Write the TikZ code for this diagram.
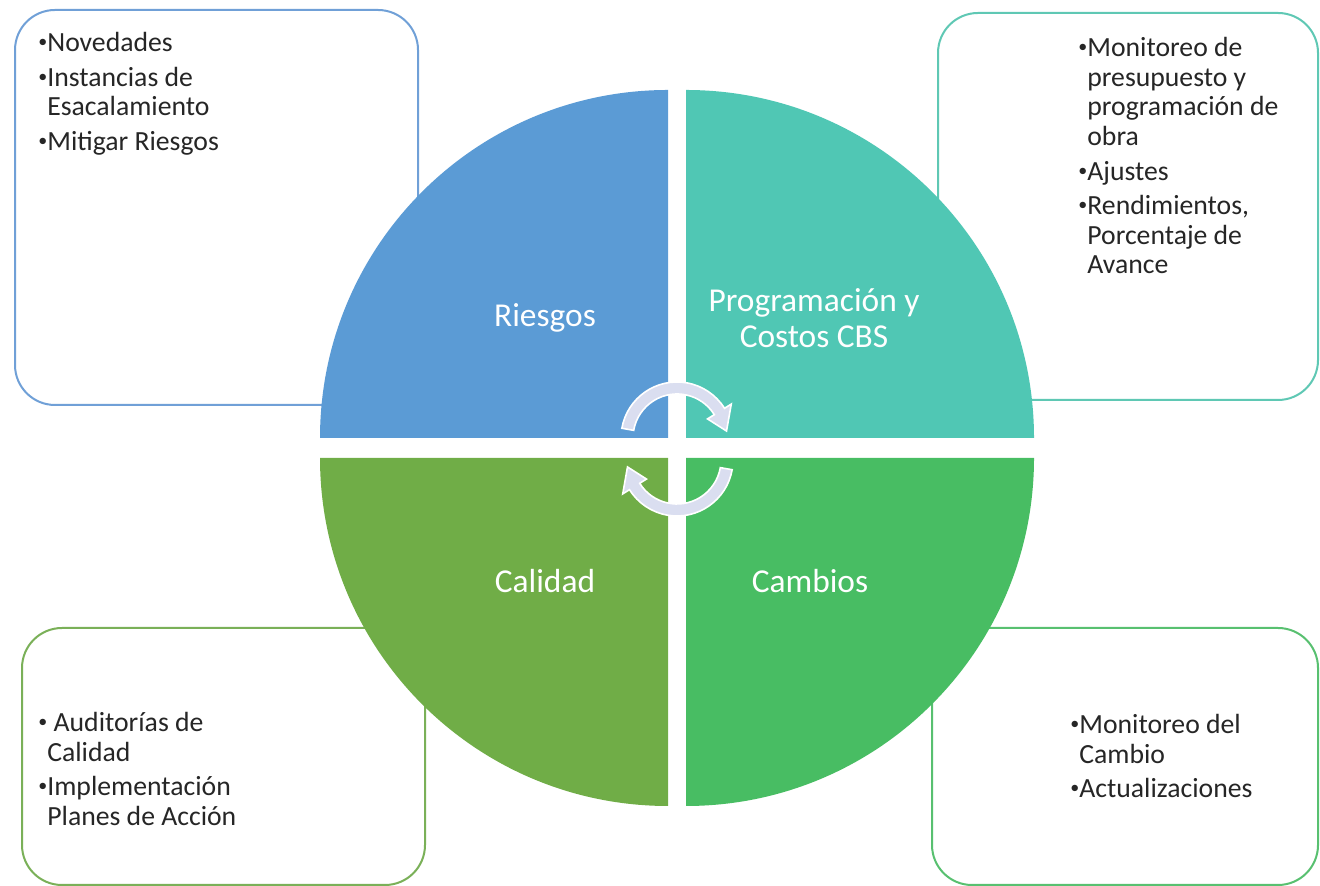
\documentclass[tikz,border=0pt]{standalone}
\usepackage{fontspec}
\setmainfont{Carlito}
\usetikzlibrary{positioning}

\definecolor{riesgosBlue}{RGB}{91,155,213}
\definecolor{costosTeal}{RGB}{80,199,180}
\definecolor{calidadGreen}{RGB}{112,173,71}
\definecolor{cambiosGreen}{RGB}{72,189,99}
\definecolor{riesgosLine}{RGB}{112,160,215}
\definecolor{costosLine}{RGB}{95,200,180}
\definecolor{calidadLine}{RGB}{122,176,88}
\definecolor{cambiosLine}{RGB}{88,192,112}
\definecolor{arrowLilac}{RGB}{218,222,240}

\newcommand{\itemdot}{\raisebox{0.14em}{\fontsize{9}{9}\selectfont•}}
\newcommand{\itemgap}{\phantom{\itemdot}}

\begin{document}
\begin{tikzpicture}[
    x=0.5pt, y=0.5pt,
    panel/.style={rounded corners=20pt, line width=1pt, fill=white},
    bullets/.style={anchor=north west, inner sep=0pt, align=left, text=black!85,
      font=\fontsize{13.85}{14.8}\selectfont},
    quadtext/.style={text=white, align=center, inner sep=0pt,
      font=\fontsize{16.7}{18}\selectfont},
    cyclearrow/.style={fill=arrowLilac, draw=white, line width=0.8pt}
  ]

  \useasboundingbox (0,0) rectangle (1320,886);

  % boxes behind the circle
  \draw[panel, draw=riesgosLine] (15,481) rectangle (418,876);
  \draw[panel, draw=costosLine] (938,486) rectangle (1318,873);
  \draw[panel, draw=calidadLine] (22,1) rectangle (425,258);
  \draw[panel, draw=cambiosLine] (932,1) rectangle (1318,258);

  % the four quarters
  \fill[riesgosBlue] (668,448) -- (320,448) arc[start angle=180, end angle=90, radius=348] -- cycle;
  \fill[costosTeal] (686,448) -- (686,796) arc[start angle=90, end angle=0, radius=348] -- cycle;
  \fill[cambiosGreen] (686,428) -- (1034,428) arc[start angle=0, end angle=-90, radius=348] -- cycle;
  \fill[calidadGreen] (668,428) -- (668,80) arc[start angle=-90, end angle=-180, radius=348] -- cycle;

  \node[quadtext] (riesgos) at (545,568) {Riesgos};
  \node[quadtext] (costos) at (814,568) {Programación y\\Costos CBS};
  \node[quadtext] (calidad) at (545,305) {Calidad};
  \node[quadtext] (cambios) at (810,305) {Cambios};

  % circular arrows in the middle
  \foreach \turn in {0,180}
    \filldraw[cyclearrow, rotate around={\turn:(677,437)}, shift={(677,448)}]
      (170:56) arc[start angle=170, end angle=32, radius=56] -- (32:64) -- (8:50)
      -- (32:36) -- (32:44) arc[start angle=32, end angle=170, radius=44] -- cycle;

  % texts of the boxes
  \node[bullets] (notasRiesgos) at (38,854)
    {\itemdot Novedades\\[2.5pt]\itemdot Instancias de\\\itemgap Esacalamiento\\[2.5pt]\itemdot Mitigar Riesgos};
  \node[bullets] (notasCostos) at (1078,849)
    {\itemdot Monitoreo de\\\itemgap presupuesto y\\\itemgap programación de\\\itemgap obra\\[2.5pt]%
     \itemdot Ajustes\\[2.5pt]\itemdot Rendimientos,\\\itemgap Porcentaje de\\\itemgap Avance};
  \node[bullets] (notasCalidad) at (38,174)
    {\itemdot{} Auditorías de\\\itemgap Calidad\\[2.5pt]\itemdot Implementación\\\itemgap Planes de Acción};
  \node[bullets] (notasCambios) at (1070,172)
    {\itemdot Monitoreo del\\\itemgap Cambio\\[2.5pt]\itemdot Actualizaciones};

\end{tikzpicture}
\end{document}
